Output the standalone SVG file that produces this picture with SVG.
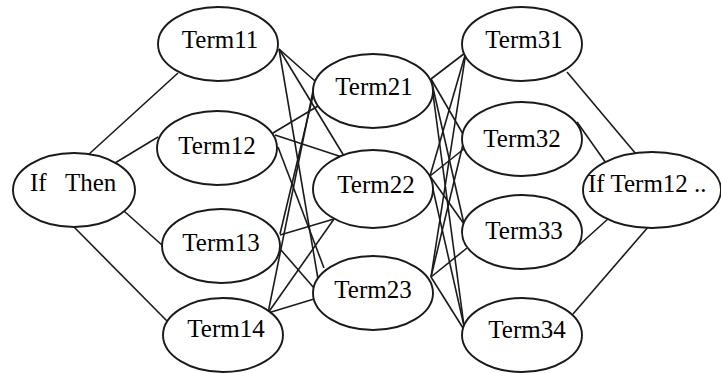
<svg xmlns="http://www.w3.org/2000/svg" width="721" height="373" viewBox="0 0 721 373">
<style>
.n ellipse{fill:#fff;stroke:#1a1a1a;stroke-width:1.9}
.n text{font-family:'Liberation Serif','Times New Roman','DejaVu Serif',serif;font-size:25px;fill:#000;text-anchor:middle}
#edges line{stroke:#1a1a1a;stroke-width:1.6}
</style>
<rect width="721" height="373" fill="#fff"/>
<g id="edges">
<line x1="88" y1="155" x2="178" y2="73"/>
<line x1="115" y1="163" x2="158" y2="137"/>
<line x1="124" y1="211" x2="163" y2="246"/>
<line x1="73" y1="226" x2="167" y2="321"/>
<line x1="279" y1="49" x2="315" y2="81"/>
<line x1="279" y1="49" x2="344" y2="156"/>
<line x1="279" y1="49" x2="318" y2="279"/>
<line x1="273" y1="133" x2="318" y2="106"/>
<line x1="275" y1="135" x2="345" y2="158"/>
<line x1="278" y1="147" x2="324" y2="268"/>
<line x1="280" y1="234" x2="316" y2="83"/>
<line x1="280" y1="235" x2="334" y2="219"/>
<line x1="281" y1="250" x2="314" y2="288"/>
<line x1="268" y1="313" x2="314" y2="86"/>
<line x1="268" y1="313" x2="334" y2="219"/>
<line x1="268" y1="313" x2="314" y2="299"/>
<line x1="431" y1="79" x2="465" y2="53"/>
<line x1="431" y1="79" x2="463" y2="134"/>
<line x1="431" y1="79" x2="464" y2="224"/>
<line x1="431" y1="79" x2="464" y2="326"/>
<line x1="430" y1="176" x2="466" y2="52"/>
<line x1="430" y1="176" x2="465" y2="148"/>
<line x1="430" y1="176" x2="464" y2="224"/>
<line x1="430" y1="176" x2="464" y2="326"/>
<line x1="431" y1="277" x2="466" y2="52"/>
<line x1="431" y1="277" x2="464" y2="140"/>
<line x1="431" y1="277" x2="467" y2="248"/>
<line x1="431" y1="277" x2="463" y2="328"/>
<line x1="567" y1="72" x2="636" y2="154"/>
<line x1="577" y1="122" x2="606" y2="163"/>
<line x1="578" y1="246" x2="609" y2="218"/>
<line x1="573" y1="314" x2="649" y2="226"/>
</g>
<g id="ifthen" class="n"><ellipse cx="74" cy="190" rx="61" ry="37"/><text x="30" y="191" font-family="Liberation Serif, serif" style="text-anchor:start;white-space:pre" xml:space="preserve">If   Then</text></g>
<g id="term11" class="n"><ellipse cx="218" cy="44" rx="60" ry="37"/><text x="220" y="48">Term11</text></g>
<g id="term12" class="n"><ellipse cx="217" cy="148" rx="60" ry="37"/><text x="217" y="154">Term12</text></g>
<g id="term13" class="n"><ellipse cx="221" cy="246" rx="59" ry="37"/><text x="221" y="251">Term13</text></g>
<g id="term14" class="n"><ellipse cx="223" cy="335" rx="60" ry="37"/><text x="226" y="337">Term14</text></g>
<g id="term21" class="n"><ellipse cx="373" cy="91" rx="60" ry="37"/><text x="374" y="95">Term21</text></g>
<g id="term22" class="n"><ellipse cx="373" cy="189" rx="60" ry="39"/><text x="376" y="193">Term22</text></g>
<g id="term23" class="n"><ellipse cx="373" cy="293" rx="60" ry="37"/><text x="373" y="298">Term23</text></g>
<g id="term31" class="n"><ellipse cx="522" cy="44" rx="60" ry="37"/><text x="524" y="48">Term31</text></g>
<g id="term32" class="n"><ellipse cx="522" cy="139" rx="60" ry="37"/><text x="522" y="147">Term32</text></g>
<g id="term33" class="n"><ellipse cx="522" cy="232" rx="60" ry="37"/><text x="524" y="239">Term33</text></g>
<g id="term34" class="n"><ellipse cx="522" cy="335" rx="60" ry="37"/><text x="527" y="338">Term34</text></g>
<g id="ifterm12" class="n"><ellipse cx="652" cy="190" rx="69" ry="38"/><text x="588" y="192" style="text-anchor:start">If Term12 ..</text></g>
</svg>
